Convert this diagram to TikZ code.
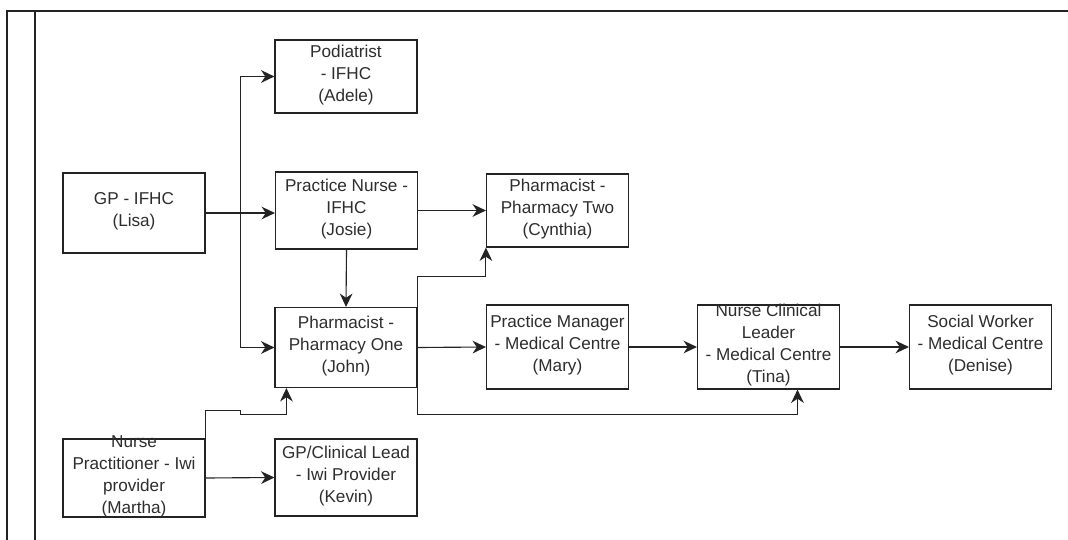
\documentclass[tikz,border=0pt]{standalone}
\usepackage{fontspec}
\setmainfont{Liberation Sans}
\usetikzlibrary{calc,arrows.meta,positioning}
\definecolor{lineGrey}{RGB}{35,35,35}
\definecolor{textGrey}{RGB}{45,45,45}
\newcommand{\rolelines}[1]{\raisebox{-0.3em}{\smash{\begin{tabular}{@{}c@{}}#1\end{tabular}}}}

\begin{document}
\begin{tikzpicture}[x=0.025cm,y=-0.025cm,
  role/.style={draw=lineGrey,line width=.8pt,minimum width=3.55cm,inner sep=0pt,text=textGrey,font=\fontsize{12.2}{15.6}\selectfont},
  link/.style={draw=lineGrey,line width=.8pt,-{Stealth[length=9.5pt,width=9pt,inset=3pt]}},
  frame/.style={draw=lineGrey,line width=1pt}]
\useasboundingbox (0,0) rectangle (1068,540);
\draw[frame] (7,540) -- (7,11) -- (1068,11);
\draw[frame] (35,11) -- (35,540);

% IFHC
\node[role,minimum height=1.825cm] (podiatrist) at (346,76.5) {\rolelines{Podiatrist\\- IFHC\\(Adele)}};
\node[role,minimum height=2cm] (gpifhc) at (134,213) {\rolelines{GP - IFHC\\(Lisa)}};
\node[role,minimum height=1.925cm] (nurse) at (346.5,210.5) {\rolelines{Practice Nurse -\\IFHC\\(Josie)}};
% pharmacies
\node[role,minimum height=1.825cm] (pharmtwo) at (557.5,210.5) {\rolelines{Pharmacist -\\Pharmacy Two\\(Cynthia)}};
\node[role,minimum height=2cm] (pharmone) at (346,347.5) {\rolelines{Pharmacist -\\Pharmacy One\\(John)}};
% medical centre
\node[role,minimum height=2.1cm] (manager) at (557.5,347) {\rolelines{Practice Manager\\- Medical Centre\\(Mary)}};
\node[role,minimum height=2.1cm] (leader) at (768.5,347) {\rolelines{Nurse Clinical\\Leader\\- Medical Centre\\(Tina)}};
\node[role,minimum height=2.1cm] (social) at (980.5,347) {\rolelines{Social Worker\\- Medical Centre\\(Denise)}};
% iwi provider
\node[role,minimum height=1.95cm] (practitioner) at (134,478) {\rolelines{Nurse\\Practitioner - Iwi\\provider\\(Martha)}};
\node[role,minimum height=1.925cm] (clinlead) at (346,477.5) {\rolelines{GP/Clinical Lead\\- Iwi Provider\\(Kevin)}};

\coordinate (split) at ($(gpifhc.east)+(35,0)$);
\draw[link] (gpifhc.east) -- (split) |- (podiatrist.west);
\draw[link] (gpifhc.east) -- (nurse.west |- split);
\draw[link] (split) |- (pharmone.west);
\draw[link] (nurse.south) -- (pharmone.north);
\draw[link] (nurse.east) -- (pharmtwo.west);
\draw[link] (pharmone.north east) -- ++(0,-30) -| (pharmtwo.south west);
\draw[link] (pharmone.east) -- (manager.west);
\draw[link] (manager.east) -- (leader.west);
\draw[link] (leader.east) -- (social.west);
\draw[link] (pharmone.south east) -- ++(0,26) -| ($(leader.south)+(29,0)$);
\draw[link] (practitioner.north east) -- ++(0,-28) -- ++(35,0) -- ++(0,4) -| ($(pharmone.south west)+(12,0)$);
\draw[link] (practitioner.east) -- (clinlead.west);
\end{tikzpicture}
\end{document}
